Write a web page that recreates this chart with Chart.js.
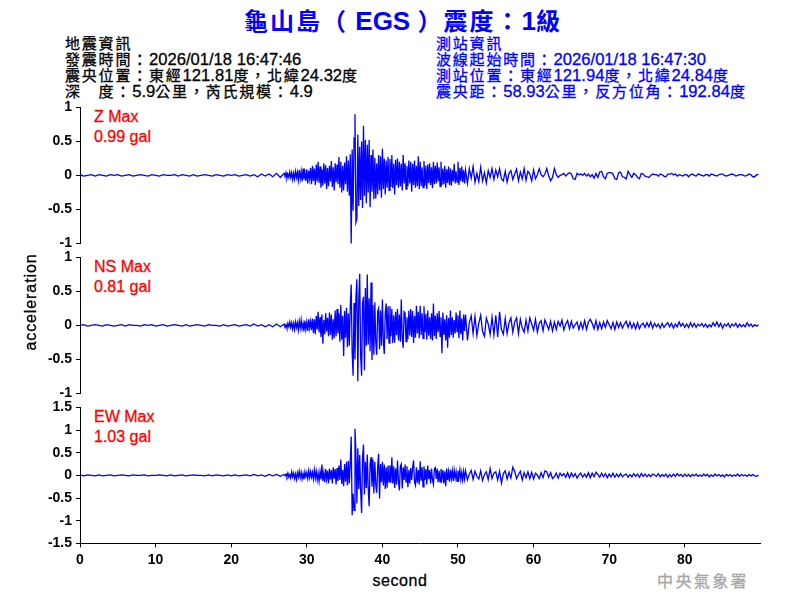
<!DOCTYPE html>
<html lang="zh-Hant">
<head>
<meta charset="utf-8">
<script src="https://cdn.jsdelivr.net/npm/chart.js@4"></script>
<style>
html,body{margin:0;padding:0;background:#fff;width:800px;height:600px;overflow:hidden}
canvas{position:absolute;left:0}
.t{position:absolute;white-space:pre;font-family:"Liberation Sans",sans-serif;line-height:1;-webkit-text-stroke:0.3px currentColor}
.t span{font-family:"Noto Sans CJK TC",sans-serif}
</style>
</head>
<body>
<div id="head"></div>
<canvas id="cz" width="800" height="150" style="top:100px"></canvas>
<canvas id="cn" width="800" height="150" style="top:250px"></canvas>
<canvas id="ce" width="800" height="170" style="top:400px"></canvas>
<div class="t" style="left:-69px;width:200px;text-align:center;top:294px;font-size:16px;letter-spacing:0.9px;transform:rotate(-90deg)">acceleration</div>
<div class="t" style="left:300px;width:200px;text-align:center;top:573px;font-size:16px;letter-spacing:0.6px">second</div>
<script>
// header text
const titleText = "龜山島（ EGS ）震度：1級";
const infoLeft = ["地震資訊","發震時間：2026/01/18 16:47:46","震央位置：東經121.81度，北緯24.32度","深　度：5.9公里，芮氏規模：4.9"];
const infoRight = ["測站資訊","波線起始時間：2026/01/18 16:47:30","測站位置：東經121.94度，北緯24.84度","震央距：58.93公里，反方位角：192.84度"];
const maxLabels = [["Z Max","0.99 gal"],["NS Max","0.81 gal"],["EW Max","1.03 gal"]];
const agency = "中央氣象署";

// tick labels
const ticksX = [0,10,20,30,40,50,60,70,80];
const ticksZ = [-1,-0.5,0,0.5,1];
const ticksNS = [-1,-0.5,0,0.5,1];
const ticksEW = [-1.5,-1,-0.5,0,0.5,1,1.5];

// traces, in 0.01 gal: quiet 0-27 s each 0.5 s, burst 27-51 s each 0.125 s, tail 51-90 s each 0.25 s
const zQuiet = [1,-1,0,1,-1,1,0,-1,1,0,1,-1,0,1,-1,0,1,0,-1,1,0,-1,1,0,0,1,-1,1,0,-1,1,-1,0,1,0,-1,1,0,-1,1,0,1,-1,0,1,-1,1,-2,2,-1,2,-2,3,-3];
const zBurst = [
3,-2,4,-4,2,-3,5,-3,4,-6,3,-5,6,-3,5,-7,
8,-5,6,-9,10,-6,4,-8,9,-12,7,-5,11,-13,14,-8,
10,-14,16,-9,20,-11,13,-18,9,-15,18,-12,15,-20,11,-16,
14,-9,21,-17,12,-22,18,-10,16,-13,27,-18,20,-25,14,-22,
19,-13,28,-24,22,-30,31,-101,38,-52,55,90,-69,-64,60,-45,
42,-36,50,-48,73,-30,52,-41,45,-25,52,-47,30,-24,38,-35,
26,-34,18,-28,30,-22,28,-33,39,-20,25,-28,22,-18,27,-22,
24,-17,30,-19,17,-28,23,-14,25,-18,20,-16,17,-22,30,-12,
18,-20,14,-16,22,-12,20,-24,17,-14,22,-18,14,-16,28,-20,
20,-16,12,-18,21,-15,14,-20,16,-11,18,-14,12,-19,20,-13,
14,-12,19,-9,12,-16,20,-14,10,-13,14,-18,9,-11,13,-14,
10,-15,8,-9,17,-12,6,-10,20,-14,11,-8,13,-10,8,-12];
const zTail = [
8,-12,10,-4,13,-10,3,-9,
12,-8,4,-11,7,-3,10,-6,
8,-2,10,-5,-8,6,-10,3,
7,-6,2,9,-8,5,-5,10,
-7,6,2,-8,8,-5,1,10,
1,-2,2,10,-1,-8,-3,10,
1,-3,0,1,3,-1,2,4,
2,-5,-6,3,1,2,0,3,
-1,2,-2,1,-4,3,-3,5,
6,-2,-5,3,4,4,2,-5,
-6,4,5,-2,-3,-5,6,1,
-3,3,1,-3,-5,3,2,-1,
-2,-3,0,2,1,1,-1,2,
1,-1,-2,2,2,3,1,2,
-1,1,0,-1,1,1,-2,1,
2,0,-1,2,1,0,-1,1,
1,-1,2,1,0,-1,1,2,
2,0,-1,0,1,2,1,-1,
0,1,1,0,-1,0,2,1,
-2,-2,1,1];

const nsQuiet = [0,1,-1,0,1,0,-1,1,0,-1,0,1,-1,1,0,0,-1,1,0,1,-1,0,1,-1,0,1,0,-1,1,-1,0,1,0,-1,1,0,0,-1,1,-1,0,1,-1,0,1,-1,2,-1,1,-2,1,-2,2,-2];
const nsBurst = [
2,-3,1,-4,3,-2,5,-3,4,-5,3,-6,5,-3,4,-7,
6,-4,8,-5,3,-9,7,-6,5,-8,9,-4,6,-7,10,-11,
9,-13,14,-6,20,-10,12,-17,16,-27,8,-13,18,-9,11,-16,
19,-14,16,-21,9,-19,22,-16,24,-12,18,-24,30,-21,14,-45,
21,-18,26,-32,18,-30,28,60,-40,-74,33,-50,42,68,-82,38,
76,-45,-74,33,42,-66,55,-30,75,-28,40,-38,63,-51,30,-43,
34,-25,-43,20,25,-35,22,-30,38,-24,-42,18,32,-20,28,-26,
28,-16,24,-26,15,-25,20,-14,24,-22,16,-24,38,-18,-33,20,
18,-24,12,-20,22,-15,24,-17,21,-26,14,-18,29,-12,20,-19,
29,-14,18,-19,28,-10,17,-21,22,-15,12,-20,18,-22,32,-16,
14,-20,18,-10,21,-16,12,-41,19,-14,9,-22,15,-33,11,-18,
22,-14,12,-18,8,-12,19,-9,15,-19,22,-13,10,-22,16,-8];
const nsTail = [
16,-22,4,14,-12,13,-15,3,
15,-9,-16,11,2,-13,12,-14,
15,-17,20,-6,-13,10,-12,4,
11,-10,5,11,-12,9,-4,-10,
8,-8,11,2,-7,9,-10,3,
7,-8,8,1,-6,6,-8,5,
-6,6,-1,8,-7,2,7,-5,
6,-4,1,5,-6,4,-5,7,
-6,5,9,3,-5,7,-6,4,
-5,5,-3,7,1,-5,4,-6,
5,-3,4,-4,2,6,-3,5,
-4,3,-5,4,-5,1,3,-3,
4,-2,5,-4,3,-2,2,-4,
3,-3,1,4,-2,3,-4,2,
-2,5,-1,3,-3,2,-3,4,
-2,3,-3,2,-1,3,-2,2,
-3,1,-2,4,-1,5,-2,3,
-4,2,-1,3,-3,2,-1,3,
-3,2,-2,1,-2,4,-1,2,
-2,1,-1,1];

const ewQuiet = [1,-1,1,0,-1,1,-1,0,1,-1,0,1,0,-1,1,0,0,1,-1,0,0,1,0,-1,1,-1,0,1,-1,0,1,0,0,-1,1,-1,1,0,-1,1,-1,1,-1,0,1,-1,2,-1,1,-2,2,-1,2,-2];
const ewBurst = [
2,-1,3,-3,5,-4,2,-6,8,-3,5,-7,3,-9,6,-4,
9,-5,7,-8,4,-9,8,-3,6,-7,10,-5,8,-4,7,-8,
12,-6,9,-10,5,-13,8,-9,24,-12,6,-15,14,-8,10,-17,
15,-9,12,-18,18,-7,14,-20,16,-12,22,-10,35,-19,12,-24,
25,-14,30,-22,32,-18,28,86,-88,-40,-77,103,50,-62,60,-30,
45,-35,-83,40,68,-42,30,-28,46,-30,-68,25,40,-25,35,-40,
30,-20,-38,18,48,-51,25,-15,30,-22,24,-30,18,-27,22,-14,
22,-16,40,-18,20,-28,15,-20,33,-12,-33,20,25,-29,18,-10,
24,-14,20,-26,12,-18,16,-10,18,33,-15,-22,18,-16,12,-20,
31,-12,18,-25,20,-10,14,-20,22,-8,12,-18,15,-10,-20,14,
17,-8,15,-15,10,-14,14,-7,12,-18,9,-24,15,-10,8,-14,
13,-7,10,-12,11,-6,8,-13,10,-5,12,-9,7,-10,9,-8];
const ewTail = [
10,-10,3,11,-9,9,-2,-8,
10,-11,2,8,-9,15,-7,5,
8,-10,9,-17,4,10,-8,7,
-6,18,9,-7,2,9,-10,6,
-5,8,-7,7,-8,5,1,-7,
6,-5,10,8,-4,6,-7,-3,
5,-6,5,-1,4,-4,6,-5,
5,-3,4,-6,1,5,-4,3,
-4,6,-5,5,-3,7,2,-4,
5,-3,4,-5,3,-3,5,-4,
3,-3,4,-3,1,3,-4,2,
-3,4,-2,3,-4,4,-2,3,
-3,2,-3,3,1,-2,4,-3,
2,-2,3,-4,2,-3,3,-2,
4,-1,2,-3,3,-2,2,-3,
2,-1,3,-2,1,-2,3,-1,
2,-3,1,-2,3,-1,2,-2,
1,-3,2,-1,2,-2,1,-1,
3,-2,2,-1,1,-2,2,-1,
2,-1,-2,1];

// text as DOM: CJK runs are slightly smaller and spaced, as in the reference
const head = document.getElementById('head');
function put(text,x,y,size,color,cjkSize,cjkGap){
  const d=document.createElement('div');d.className='t';
  d.style.cssText=`left:${x}px;top:${y}px;font-size:${size}px;color:${color}`;
  text.split(/([^\x00-\x7f]+)/).forEach((part,i)=>{
    if(!part) return;
    if(i%2){const s=document.createElement('span');s.textContent=part;
      s.style.fontSize=cjkSize+'px';s.style.letterSpacing=cjkGap+'px';d.appendChild(s);}
    else d.appendChild(document.createTextNode(part));
  });
  head.appendChild(d);
  return d;
}
const tt=put(titleText,0,8,26,'#0000ff',24,2);
tt.style.width='806px';tt.style.textAlign='center';tt.style.fontWeight='bold';tt.style.webkitTextStroke='0';
infoLeft.forEach((s,i)=>put(s,65,35+16*i,16.6,'#000',15,1.8));
infoRight.forEach((s,i)=>put(s,436,35+16*i,16.6,'#0000ff',15,1.8));
[110,260,410].forEach((y,i)=>{
  put(maxLabels[i][0],94,y-1,16,'#ff0000',15,1);
  put(maxLabels[i][1],94,y+19,16,'#ff0000',15,1);
});
put(agency,657,572,16,'#a6a6a6',16,2.4);

function pts(q,b,t){
  return q.map((v,i)=>({x:i*0.5,y:v/100}))
    .concat(b.map((v,i)=>({x:27+i*0.125,y:v/100})))
    .concat(t.map((v,i)=>({x:51+i*0.25,y:v/100})));
}
const FONT={family:'"Liberation Sans",Arial,sans-serif',size:14,weight:'bold'};
// areaTop/areaBottom: where the plot box sits on the page
function make(id,quiet,burst,tail,ticks,range,bottom,areaTop,areaBottom){
  const xScale={type:'linear',display:!!bottom,min:0,max:89.95,
    border:{color:'#000',width:1},
    grid:{drawOnChartArea:false,color:'#000',tickLength:4},
    afterBuildTicks:s=>{s.ticks=ticksX.map(v=>({value:v}))},
    ticks:{maxRotation:0,color:'#000',font:FONT,padding:4,callback:v=>String(v)}};
  if(bottom) xScale.afterFit=s=>{s.height=28};
  const el=document.getElementById(id);
  const chart=new Chart(el,{
    type:'line',
    data:{datasets:[{data:pts(quiet,burst,tail),borderColor:'#0000ff',borderWidth:1.3,pointRadius:0,tension:0,fill:false}]},
    options:{
      responsive:false,maintainAspectRatio:false,animation:false,devicePixelRatio:1,
      layout:{padding:{left:0,right:40,top:0,bottom:0}},
      plugins:{legend:{display:false},title:{display:false},tooltip:{enabled:false}},
      scales:{
        x:xScale,
        y:{min:-range,max:range,
          border:{color:'#000',width:1},
          grid:{drawOnChartArea:false,color:'#000',tickLength:4},
          afterBuildTicks:s=>{s.ticks=ticks.map(v=>({value:v}))},
          ticks:{color:'#000',font:FONT,padding:4,callback:v=>String(v)},
          afterFit:s=>{s.width=80}}
      }
    }
  });
  // size the canvas so that the plot box lands on the wanted page rows
  const want=areaBottom-areaTop, a=chart.chartArea;
  chart.resize(800,chart.height+want-(a.bottom-a.top));
  el.style.top=(areaTop-chart.chartArea.top)+'px';
}
make('cz',zQuiet,zBurst,zTail,ticksZ,1,false,107,243);
make('cn',nsQuiet,nsBurst,nsTail,ticksNS,1,false,257,393);
make('ce',ewQuiet,ewBurst,ewTail,ticksEW,1.5,true,407,543);
</script>
</body>
</html>
